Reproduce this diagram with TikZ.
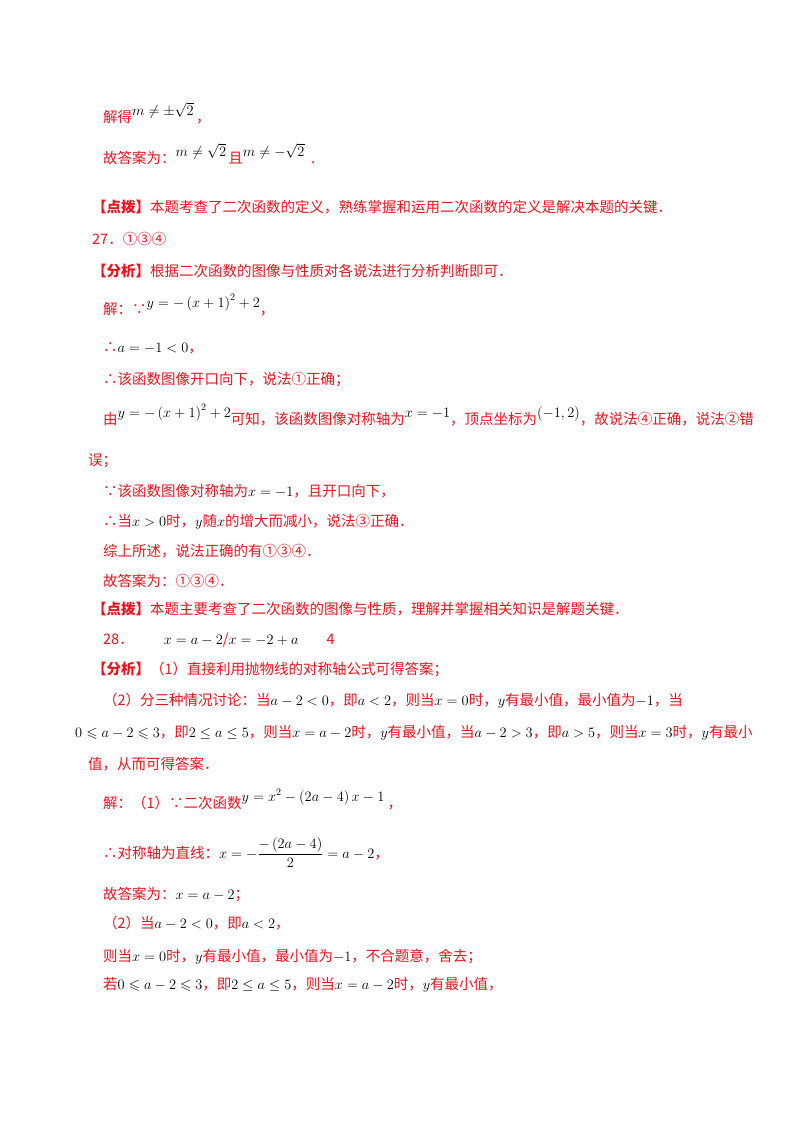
\documentclass[tikz,border=0pt]{standalone}
\usepackage{amsmath,amssymb}
\usepackage{fontspec}
\setmainfont{Noto Sans CJK SC}
\definecolor{txtred}{RGB}{235,20,30}
\newcommand{\mm}[1]{{\color{black}$#1$}}
\newcommand{\rmath}[1]{\raisebox{7pt}{\mm{#1}}}
\begin{document}
\begin{tikzpicture}[x=1pt,y=-1pt,
  ln/.style={anchor=base west,inner sep=0pt,text=txtred,font=\fontsize{14.5}{17}\selectfont}]
\useasboundingbox (0,0) rectangle (800,1132);
\node[ln] (l1) at (103,122) {解得\rmath{m\neq\pm\sqrt{2}}\,，};
\node[ln] (l2) at (103,163) {故答案为：\rmath{m\neq\sqrt{2}}\,且\rmath{m\neq-\sqrt{2}}\ \ .};
\node[ln] (l3) at (92,212) {\textbf{【点拨】}本题考查了二次函数的定义，熟练掌握和运用二次函数的定义是解决本题的关键．};
\node[ln] (l4) at (92,244) {27．①③④};
\node[ln] (l5) at (92,276) {\textbf{【分析】}根据二次函数的图像与性质对各说法进行分析判断即可．};
\node[ln] (l6) at (103,314) {解：∵\rmath{y=-\left(x+1\right)^2+2}，};
\node[ln] (l7) at (103,352) {∴\mm{a=-1<0}，};
\node[ln] (l8) at (103,384) {∴该函数图像开口向下，说法①正确；};
\node[ln] (l9) at (103,424) {由\rmath{y=-\left(x+1\right)^2+2}可知，该函数图像对称轴为\rmath{x=-1}，顶点坐标为\rmath{\left(-1,2\right)}，故说法④正确，说法②错};
\node[ln] (l10) at (88,465) {误；};
\node[ln] (l11) at (103,496) {∵该函数图像对称轴为\mm{x=-1}，且开口向下，};
\node[ln] (l12) at (103,526) {∴当\mm{x>0}时，\mm{y}随\mm{x}的增大而减小，说法③正确．};
\node[ln] (l13) at (103,556) {综上所述，说法正确的有①③④．};
\node[ln] (l14) at (103,586) {故答案为：①③④．};
\node[ln] (l15) at (92,614) {\textbf{【点拨】}本题主要考查了二次函数的图像与性质，理解并掌握相关知识是解题关键．};
\node[ln] (l16) at (103,644) {28．\hspace{30pt}\mm{x=a-2}/\mm{x=-2+a}\hspace{28pt}4};
\node[ln] (l17) at (92,674) {\textbf{【分析】}（1）直接利用抛物线的对称轴公式可得答案；};
\node[ln] (l18) at (103,705) {（2）分三种情况讨论：当\mm{a-2<0}，即\mm{a<2}，则当\mm{x=0}时，\mm{y}有最小值，最小值为\mm{-1}，当};
\node[ln] (l19) at (75,737) {\mm{0\leqslant a-2\leqslant 3}，即\mm{2\le a\le 5}，则当\mm{x=a-2}时，\mm{y}有最小值，当\mm{a-2>3}，即\mm{a>5}，则当\mm{x=3}时，\mm{y}有最小};
\node[ln] (l20) at (88,769) {值，从而可得答案．};
\node[ln] (l21) at (103,808) {解：（1）∵二次函数\rmath{y=x^2-\left(2a-4\right)x-1}\ ，};
\node[ln] (l22) at (103,858) {∴对称轴为直线：\mm{x=-\dfrac{-\left(2a-4\right)}{2}=a-2}，};
\node[ln] (l23) at (103,899) {故答案为：\mm{x=a-2}；};
\node[ln] (l24) at (103,928) {（2）当\mm{a-2<0}，即\mm{a<2}，};
\node[ln] (l25) at (103,961) {则当\mm{x=0}时，\mm{y}有最小值，最小值为\mm{-1}，不合题意，舍去；};
\node[ln] (l26) at (103,989) {若\mm{0\leqslant a-2\leqslant 3}，即\mm{2\le a\le 5}，则当\mm{x=a-2}时，\mm{y}有最小值，};
\end{tikzpicture}
\end{document}
